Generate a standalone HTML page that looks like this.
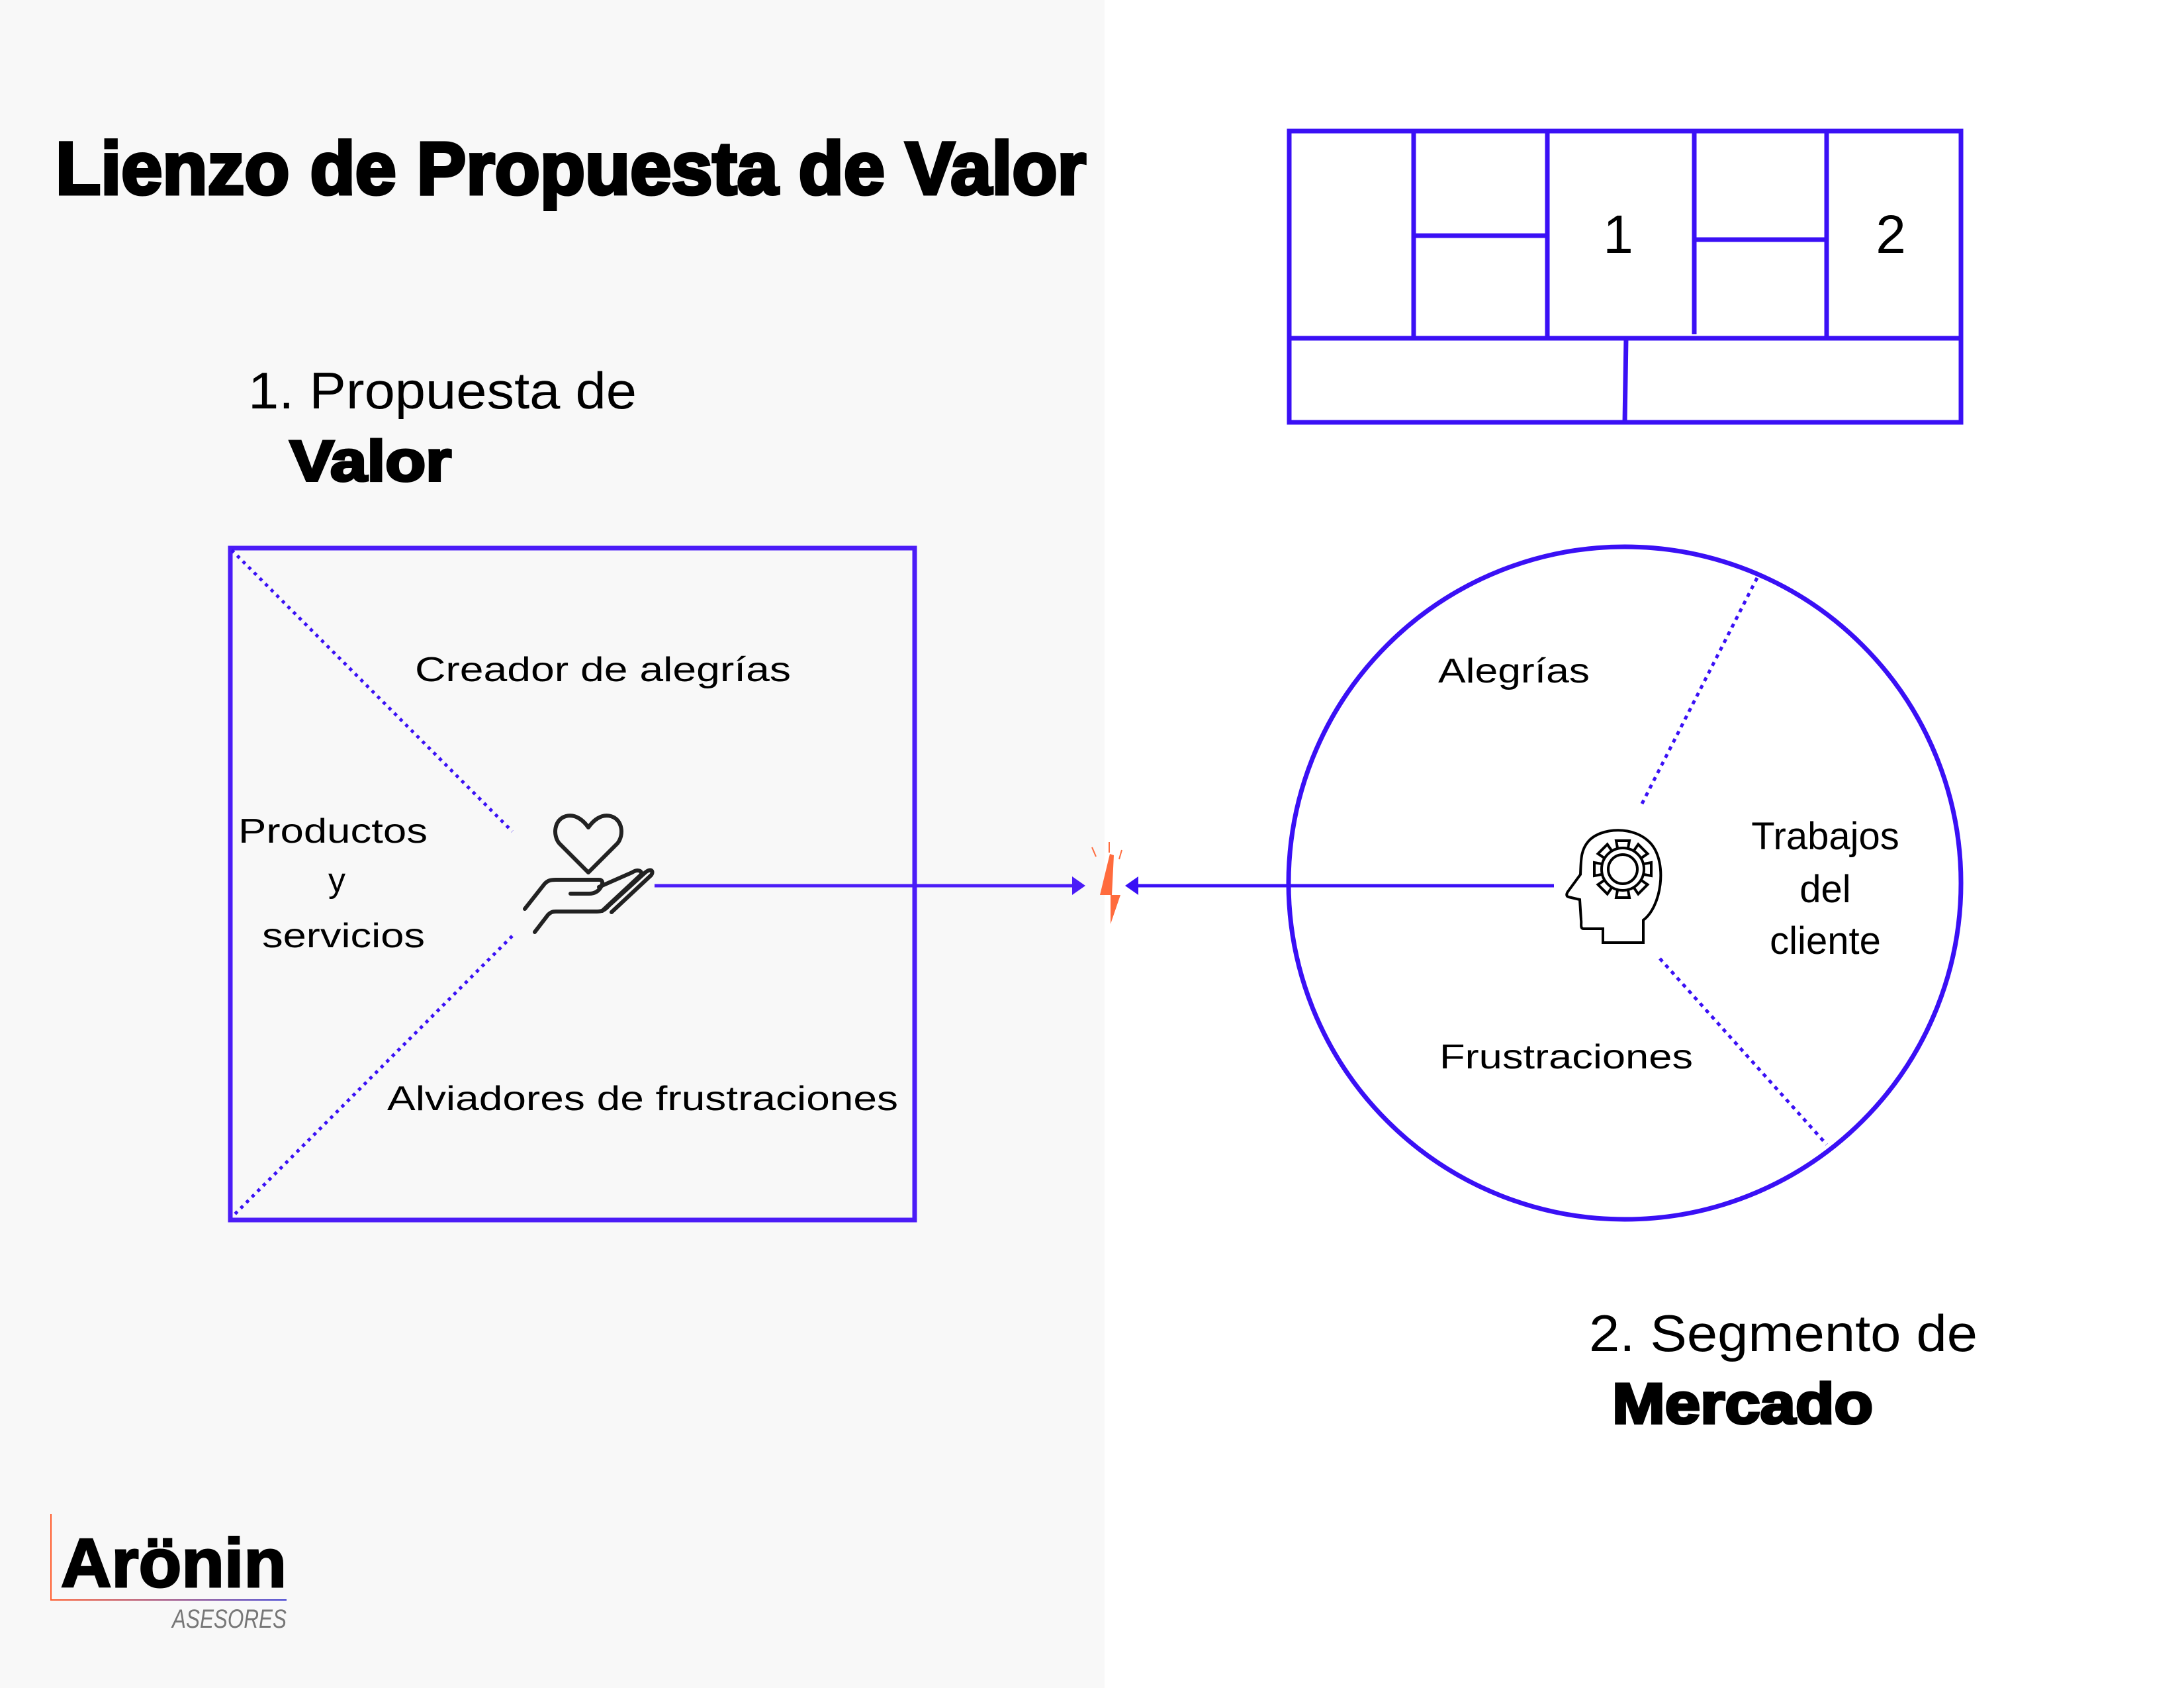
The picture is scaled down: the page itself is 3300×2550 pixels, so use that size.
<!DOCTYPE html>
<html><head><meta charset="utf-8"><style>
html,body{margin:0;padding:0;width:3300px;height:2550px;overflow:hidden;background:#fff}
svg{display:block}
text{font-family:"Liberation Sans",sans-serif;fill:#000}
</style></head><body>
<svg width="3300" height="2550" viewBox="0 0 3300 2550" xmlns="http://www.w3.org/2000/svg">
<defs>
<linearGradient id="lg" x1="0" x2="1"><stop offset="0" stop-color="#ff5a2a"/><stop offset="1" stop-color="#3a3ad0"/></linearGradient>
</defs>
<rect x="0" y="0" width="1669" height="2550" fill="#f8f8f8"/>

<!-- Title -->
<text x="84" y="293" font-size="112" font-weight="bold" stroke="#000" stroke-width="5" textLength="1557" lengthAdjust="spacingAndGlyphs">Lienzo de Propuesta de Valor</text>

<text x="375" y="617" font-size="78" textLength="587" lengthAdjust="spacingAndGlyphs">1. Propuesta de</text>
<text x="438" y="726" font-size="86" font-weight="bold" stroke="#000" stroke-width="4" textLength="244" lengthAdjust="spacingAndGlyphs">Valor</text>

<!-- Left box -->
<rect x="348" y="828" width="1034" height="1015" fill="none" stroke="#4b1cf7" stroke-width="7"/>
<line x1="350" y1="831" x2="774" y2="1256" stroke="#3a10f5" stroke-width="5" stroke-dasharray="5 7"/>
<line x1="774" y1="1414" x2="350" y2="1839" stroke="#3a10f5" stroke-width="5" stroke-dasharray="5 7"/>

<text x="627" y="1029" font-size="52" textLength="568" lengthAdjust="spacingAndGlyphs">Creador de alegrías</text>
<text x="360" y="1273" font-size="52" textLength="286" lengthAdjust="spacingAndGlyphs">Productos</text>
<text x="509" y="1347" font-size="52" text-anchor="middle">y</text>
<text x="396" y="1431" font-size="52" textLength="246" lengthAdjust="spacingAndGlyphs">servicios</text>
<text x="585" y="1677" font-size="52" textLength="772" lengthAdjust="spacingAndGlyphs">Alviadores de frustraciones</text>

<!-- hand & heart icon -->
<g fill="none" stroke="#222" stroke-width="6" stroke-linejoin="round" stroke-linecap="round">
<path d="M889 1318 L845 1274 C835 1262 837 1238 855 1233 C870 1229 882 1240 889 1250 C896 1240 908 1229 923 1233 C941 1238 943 1262 933 1274 Z"/>
<path d="M793 1373 L823 1335 C828 1330 832 1329 840 1329 L905 1329 C910 1329 912 1333 908 1340 C904 1347 898 1350 890 1350 L862 1350"/>
<path d="M808 1408 L828 1382 C832 1378 835 1377 840 1377 L902 1377 C910 1377 915 1374 920 1368 L975 1318 C984 1311 988 1316 984 1322 L924 1378"/>
<path d="M905 1340 L955 1318 C964 1312 972 1316 968 1322 L910 1376"/>
</g>

<!-- arrows -->
<line x1="989" y1="1338" x2="1622" y2="1338" stroke="#4b1cf7" stroke-width="5"/>
<polygon points="1640,1338 1620,1324 1620,1352" fill="#4b1cf7"/>
<line x1="1716" y1="1338" x2="2348" y2="1338" stroke="#3a10f5" stroke-width="5"/>
<polygon points="1700,1338 1720,1324 1720,1352" fill="#3a10f5"/>

<!-- lightning -->
<polygon points="1677,1290 1662,1352 1678,1352 1678,1396 1693,1352 1680,1352 1683,1292" fill="#ff6b3d"/>
<g stroke="#ff6b3d" stroke-width="2"><line x1="1650" y1="1280" x2="1656" y2="1294"/><line x1="1676" y1="1272" x2="1676" y2="1288"/><line x1="1695" y1="1284" x2="1691" y2="1298"/></g>

<!-- circle -->
<circle cx="2455" cy="1334" r="508" fill="none" stroke="#3a10f5" stroke-width="7"/>
<line x1="2655" y1="873" x2="2478" y2="1220" stroke="#3a10f5" stroke-width="5" stroke-dasharray="6 7"/>
<line x1="2508" y1="1448" x2="2760" y2="1729" stroke="#3a10f5" stroke-width="5" stroke-dasharray="6 7"/>

<!-- head icon -->
<g fill="none" stroke="#000" stroke-width="4">
<path d="M2422 1424 L2422 1403 L2393 1403 C2387 1403 2390 1395 2389 1390 L2387 1359 L2370 1355 C2366 1354 2367 1350 2369 1347 L2388 1321 C2389 1300 2388 1285 2400 1271 C2418 1250 2470 1246 2495 1275 C2520 1305 2510 1370 2483 1390 L2483 1424 Z"/>
<circle cx="2452" cy="1313" r="32"/>
<circle cx="2452" cy="1313" r="22"/>
</g>
<g stroke="#000" stroke-width="4" fill="none" transform="translate(2452 1313)">
<path d="M-8,-32 L-10,-43 L10,-43 L8,-32 M-8,32 L-10,43 L10,43 L8,32 M-32,-8 L-43,-10 L-43,10 L-32,8 M32,-8 L43,-10 L43,10 L32,8"/>
<path d="M-8,-32 L-10,-43 L10,-43 L8,-32 M-8,32 L-10,43 L10,43 L8,32 M-32,-8 L-43,-10 L-43,10 L-32,8 M32,-8 L43,-10 L43,10 L32,8" transform="rotate(45)"/>
</g>

<text x="2173" y="1031" font-size="52" textLength="229" lengthAdjust="spacingAndGlyphs">Alegrías</text>
<text x="2758" y="1283" font-size="58" text-anchor="middle">Trabajos</text>
<text x="2758" y="1363" font-size="58" text-anchor="middle">del</text>
<text x="2758" y="1441" font-size="58" text-anchor="middle">cliente</text>
<text x="2175" y="1614" font-size="52" textLength="383" lengthAdjust="spacingAndGlyphs">Frustraciones</text>

<text x="2401" y="2041" font-size="78" textLength="587" lengthAdjust="spacingAndGlyphs">2. Segmento de</text>
<text x="2436" y="2150" font-size="86" font-weight="bold" stroke="#000" stroke-width="4" textLength="394" lengthAdjust="spacingAndGlyphs">Mercado</text>

<!-- grid -->
<g fill="none" stroke="#3a10f5" stroke-width="7">
<rect x="1948" y="198" width="1015" height="440"/>
<line x1="1948" y1="511" x2="2963" y2="511"/>
<line x1="2136" y1="198" x2="2136" y2="511"/>
<line x1="2338" y1="198" x2="2338" y2="511"/>
<line x1="2560" y1="198" x2="2560" y2="505"/>
<line x1="2760" y1="198" x2="2760" y2="511"/>
<line x1="2136" y1="356" x2="2338" y2="356"/>
<line x1="2560" y1="362" x2="2760" y2="362"/>
<line x1="2457" y1="511" x2="2455" y2="638"/>
</g>
<text x="2445" y="382" font-size="82" text-anchor="middle">1</text>
<text x="2857" y="382" font-size="82" text-anchor="middle">2</text>

<!-- logo -->
<line x1="77" y1="2287" x2="77" y2="2417" stroke="#ff5a2a" stroke-width="2"/>
<rect x="76" y="2416" width="357" height="2" fill="url(#lg)"/>
<text x="92" y="2397" font-size="104" font-weight="bold" stroke="#000" stroke-width="3" textLength="341" lengthAdjust="spacingAndGlyphs">Arönin</text>
<text x="260" y="2459" font-size="40" font-style="italic" fill="#777" style="fill:#777" textLength="173" lengthAdjust="spacingAndGlyphs">ASESORES</text>
</svg>
</body></html>
